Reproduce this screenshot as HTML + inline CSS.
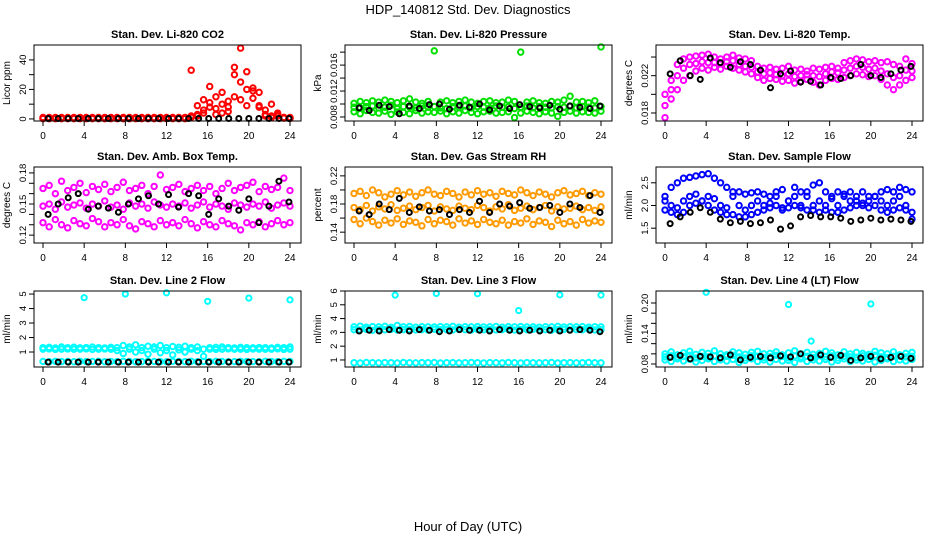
<!DOCTYPE html>
<html><head><meta charset="utf-8"><style>
body{margin:0;background:#fff;}
svg{display:block;font-family:"Liberation Sans",sans-serif;}
</style></head><body>
<svg id="chart" width="936" height="540" viewBox="0 0 936 540">
<rect width="936" height="540" fill="#fff"/>
<text x="468" y="14" text-anchor="middle" font-size="13">HDP_140812  Std. Dev. Diagnostics</text>
<text x="468" y="531" text-anchor="middle" font-size="13">Hour of Day (UTC)</text>
</svg>
<script>
// ---- data ----
const xTickLabels = ["0","4","8","12","16","20","24"];
const panelTitles = ["Stan. Dev. Li-820 CO2","Stan. Dev. Li-820 Pressure","Stan. Dev. Li-820 Temp.","Stan. Dev. Amb. Box Temp.","Stan. Dev. Gas Stream RH","Stan. Dev. Sample Flow","Stan. Dev. Line 2 Flow","Stan. Dev. Line 3 Flow","Stan. Dev. Line 4 (LT) Flow"];
const yTitles = ["Licor ppm","kPa","degrees C","degrees C","percent","ml/min","ml/min","ml/min","ml/min"];

const co2A = [0.5,0.5,0.5,0.5,0.5,0.5,0.5,0.5,0.5,0.5,0.5,0.5,0.5,0.5,0.5,0.5,0.5,0.5,0.5,0.5,0.5,0.5,0.5,0.5,33,9,13,22,15,18,8,35,48,20,21,9,3,10,4,1,0.5];
const co2B = [1,1,1,1,1,1,1,1,1,1,1,1,1,1,1,1,1,1,1,1,1,1,1,1,2,3,6,11,7,4,12,30,25,32,14,18,6,2,2,1,1];
const co2C = [0.2,0.2,0.2,0.2,0.2,0.2,0.2,0.2,0.2,0.2,0.2,0.2,0.2,0.2,0.2,0.2,0.2,0.2,0.2,0.2,0.2,0.2,0.2,0.2,1,2,4,8,3,10,5,15,13,9,19,8,2,1,3,0.5,0.3];
const co2K = [0.3,0.3,0.3,0.3,0.3,0.3,0.3,0.3,0.3,0.3,0.3,0.3,0.3,0.3,0.3,0.3,0.3,0.3,0.3,0.3,0.3,0.3,0.3,0.3,0.3];

const presA = [0.0101,0.0104,0.0102,0.0105,0.0103,0.0106,0.0104,0.0102,0.0105,0.0108,0.0103,0.0101,0.0104,0.0182,0.0103,0.0105,0.0102,0.0104,0.0106,0.0103,0.0101,0.0104,0.0105,0.0102,0.0103,0.0106,0.0104,0.0180,0.0103,0.0105,0.0102,0.0101,0.0104,0.0103,0.0106,0.0112,0.0103,0.0104,0.0102,0.0105,0.0188];
const presB = [0.0088,0.0085,0.0090,0.0087,0.0086,0.0089,0.0084,0.0088,0.0087,0.0085,0.0090,0.0086,0.0088,0.0087,0.0089,0.0085,0.0088,0.0086,0.0090,0.0087,0.0085,0.0088,0.0089,0.0086,0.0087,0.0088,0.0079,0.0086,0.0089,0.0087,0.0085,0.0088,0.0086,0.0081,0.0087,0.0089,0.0086,0.0088,0.0087,0.0086,0.0089];
const presC = [0.0095,0.0094,0.0096,0.0097,0.0094,0.0095,0.0098,0.0093,0.0096,0.0095,0.0094,0.0097,0.0095,0.0096,0.0094,0.0093,0.0096,0.0095,0.0097,0.0094,0.0096,0.0095,0.0094,0.0097,0.0095,0.0096,0.0093,0.0095,0.0097,0.0094,0.0096,0.0095,0.0094,0.0096,0.0095,0.0097,0.0094,0.0096,0.0095,0.0094,0.0096];
const presK = [0.0094,0.0090,0.0098,0.0096,0.0085,0.0097,0.0093,0.0099,0.0100,0.0092,0.0098,0.0095,0.0100,0.0091,0.0097,0.0093,0.0099,0.0096,0.0094,0.0098,0.0092,0.0097,0.0095,0.0093,0.0097];

const tempA = [0.0200,0.0215,0.0232,0.0238,0.0240,0.0241,0.0242,0.0243,0.0240,0.0238,0.0240,0.0242,0.0239,0.0238,0.0236,0.0230,0.0228,0.0229,0.0227,0.0228,0.0230,0.0226,0.0227,0.0225,0.0228,0.0227,0.0229,0.0230,0.0228,0.0234,0.0236,0.0238,0.0237,0.0235,0.0236,0.0234,0.0235,0.0232,0.0230,0.0238,0.0233];
const tempB = [0.0175,0.0195,0.0205,0.0215,0.0220,0.0225,0.0228,0.0226,0.0229,0.0227,0.0230,0.0228,0.0226,0.0224,0.0222,0.0218,0.0215,0.0217,0.0216,0.0214,0.0215,0.0212,0.0214,0.0216,0.0213,0.0210,0.0215,0.0217,0.0216,0.0218,0.0220,0.0222,0.0221,0.0219,0.0220,0.0216,0.0210,0.0205,0.0210,0.0215,0.0218];
const tempC = [0.0188,0.0205,0.0220,0.0228,0.0232,0.0233,0.0235,0.0234,0.0234,0.0233,0.0235,0.0236,0.0232,0.0230,0.0229,0.0224,0.0222,0.0223,0.0221,0.0220,0.0222,0.0219,0.0220,0.0221,0.0220,0.0219,0.0222,0.0224,0.0223,0.0226,0.0228,0.0230,0.0229,0.0227,0.0228,0.0225,0.0222,0.0218,0.0220,0.0226,0.0225];
const tempK = [0.0222,0.0236,0.0220,0.0216,0.0239,0.0234,0.0229,0.0235,0.0232,0.0226,0.0207,0.0222,0.0225,0.0213,0.0214,0.0210,0.0218,0.0217,0.0220,0.0232,0.0220,0.0218,0.0222,0.0226,0.0230];

const boxA = [0.165,0.168,0.160,0.172,0.163,0.166,0.170,0.161,0.167,0.164,0.169,0.162,0.166,0.171,0.163,0.165,0.168,0.160,0.167,0.178,0.164,0.166,0.169,0.162,0.165,0.168,0.163,0.167,0.160,0.165,0.170,0.163,0.166,0.168,0.171,0.162,0.167,0.164,0.166,0.175,0.163];
const boxB = [0.132,0.128,0.135,0.130,0.127,0.134,0.131,0.129,0.136,0.133,0.128,0.132,0.130,0.135,0.129,0.126,0.133,0.131,0.128,0.134,0.130,0.132,0.129,0.135,0.131,0.127,0.133,0.130,0.128,0.134,0.131,0.129,0.125,0.132,0.130,0.133,0.128,0.131,0.134,0.130,0.132];
const boxC = [0.148,0.150,0.145,0.152,0.147,0.149,0.151,0.146,0.150,0.148,0.153,0.147,0.149,0.145,0.151,0.148,0.150,0.146,0.152,0.149,0.147,0.150,0.148,0.151,0.146,0.149,0.152,0.147,0.150,0.148,0.145,0.151,0.149,0.147,0.150,0.148,0.152,0.146,0.149,0.151,0.148];
const boxK = [0.140,0.150,0.156,0.160,0.145,0.148,0.146,0.142,0.150,0.155,0.158,0.150,0.159,0.147,0.160,0.158,0.140,0.155,0.148,0.144,0.155,0.132,0.148,0.172,0.152];

const rhA = [0.195,0.198,0.192,0.200,0.196,0.190,0.194,0.199,0.193,0.197,0.191,0.196,0.200,0.194,0.192,0.198,0.195,0.190,0.197,0.193,0.199,0.194,0.196,0.191,0.198,0.195,0.193,0.200,0.196,0.192,0.197,0.194,0.190,0.196,0.199,0.193,0.195,0.198,0.192,0.196,0.194];
const rhB = [0.158,0.152,0.160,0.155,0.150,0.157,0.153,0.159,0.151,0.156,0.154,0.149,0.158,0.152,0.157,0.155,0.150,0.159,0.153,0.156,0.151,0.158,0.154,0.152,0.157,0.150,0.155,0.153,0.159,0.151,0.156,0.154,0.148,0.157,0.152,0.155,0.150,0.158,0.153,0.156,0.154];
const rhC = [0.175,0.172,0.178,0.170,0.176,0.173,0.179,0.171,0.174,0.177,0.172,0.175,0.178,0.170,0.176,0.173,0.171,0.177,0.174,0.172,0.178,0.175,0.170,0.176,0.173,0.179,0.171,0.174,0.177,0.172,0.175,0.178,0.170,0.176,0.173,0.174,0.177,0.172,0.175,0.171,0.176];
const rhK = [0.170,0.165,0.180,0.172,0.188,0.168,0.176,0.170,0.172,0.165,0.172,0.168,0.184,0.168,0.180,0.177,0.182,0.174,0.175,0.178,0.168,0.180,0.175,0.192,0.168];

const flowA = [2.2,2.4,2.5,2.6,2.62,2.65,2.68,2.7,2.6,2.5,2.4,2.3,2.3,2.25,2.28,2.3,2.25,2.2,2.3,2.35,2.1,2.4,2.3,2.2,2.45,2.5,2.3,2.2,2.3,2.25,2.3,2.1,2.0,2.1,2.2,2.3,2.35,2.3,2.4,2.35,2.3];
const flowB = [1.9,1.85,1.8,1.85,2.0,2.05,2.1,2.0,1.9,1.85,1.8,1.8,1.75,1.75,1.8,1.85,1.9,1.95,2.0,1.9,1.95,2.0,1.95,1.9,1.9,1.85,1.9,1.85,1.85,1.9,1.95,2.0,2.05,1.95,2.0,1.9,1.85,1.9,1.95,1.9,1.85];
const flowC = [2.1,2.0,1.95,2.1,2.2,2.25,2.1,2.2,2.15,2.0,1.95,2.2,2.0,1.9,2.0,2.1,2.0,2.05,2.2,1.95,2.1,2.2,2.0,2.3,2.0,2.1,2.0,2.15,2.0,2.2,2.1,2.2,2.3,2.2,2.2,2.1,2.0,2.1,2.2,2.0,1.7];
const flowK = [1.6,1.75,1.85,1.95,1.85,1.7,1.62,1.65,1.6,1.62,1.68,1.48,1.55,1.75,1.78,1.75,1.75,1.72,1.65,1.68,1.72,1.68,1.7,1.68,1.65];

const l2A = [1.3,1.32,1.28,1.35,1.3,1.33,1.29,1.31,1.34,1.3,1.28,1.32,1.3,1.45,1.35,1.5,1.3,1.4,1.35,1.45,1.3,1.38,1.32,1.4,1.3,1.35,1.2,1.3,1.32,1.35,1.3,1.28,1.32,1.3,1.29,1.31,1.3,1.28,1.32,1.3,1.35];
const l2B = [1.2,1.22,1.18,1.2,1.21,1.19,1.2,1.22,1.18,1.2,1.21,1.19,1.1,0.9,1.2,1.0,1.1,0.85,1.2,0.95,1.1,0.8,1.15,1.0,1.2,1.1,0.7,1.2,1.18,1.2,1.22,1.19,1.2,1.18,1.21,1.2,1.19,1.2,1.22,1.18,1.2];
const l2C = [0.35,0.33,0.36,0.34,0.35,0.33,0.36,0.34,0.35,0.36,0.33,0.35,0.34,0.36,0.35,0.33,0.34,0.36,0.35,0.34,0.33,0.36,0.35,0.34,0.36,0.33,0.35,0.34,0.36,0.35,0.33,0.34,0.36,0.35,0.34,0.33,0.36,0.35,0.34,0.36,0.35];
const l2K = [0.3,0.3,0.3,0.3,0.3,0.3,0.3,0.3,0.3,0.3,0.3,0.3,0.3,0.3,0.3,0.3,0.3,0.3,0.3,0.3,0.3,0.3,0.3,0.3,0.3];
const l2OutHours = [4,8,12,16,20,24];
const l2OutVals = [4.75,5.0,5.08,4.5,4.72,4.6];

const l3A = [3.4,3.45,3.38,3.42,3.4,3.44,3.37,3.5,3.4,3.43,3.38,3.41,3.4,3.39,3.42,3.4,3.44,3.38,3.41,3.4,3.42,3.39,3.4,3.43,3.38,3.41,3.4,3.42,3.39,3.4,3.38,3.41,3.4,3.44,3.39,3.41,3.4,3.42,3.38,3.41,3.4];
const l3B = [3.2,3.18,3.22,3.15,3.2,3.19,3.22,3.17,3.2,3.21,3.18,3.2,3.16,3.22,3.19,3.2,3.18,3.21,3.2,3.17,3.22,3.19,3.2,3.18,3.2,3.21,3.17,3.2,3.19,3.22,3.18,3.2,3.16,3.2,3.21,3.18,3.2,3.19,3.22,3.18,3.2];
const l3C = [0.8,0.78,0.82,0.8,0.79,0.81,0.8,0.78,0.82,0.8,0.79,0.81,0.8,0.82,0.78,0.8,0.81,0.79,0.8,0.82,0.8,0.78,0.81,0.8,0.79,0.82,0.8,0.78,0.81,0.8,0.79,0.8,0.82,0.78,0.8,0.81,0.79,0.8,0.82,0.8,0.79];
const l3K = [3.1,3.15,3.1,3.2,3.15,3.1,3.2,3.15,3.05,3.1,3.2,3.15,3.15,3.1,3.2,3.15,3.1,3.15,3.1,3.15,3.1,3.15,3.2,3.15,3.05];
const l3OutHours = [4,8,12,16,20,24];
const l3OutVals = [5.7,5.82,5.8,4.58,5.72,5.7];

const l4A = [0.100,0.104,0.098,0.102,0.105,0.099,0.103,0.101,0.106,0.100,0.098,0.104,0.102,0.099,0.103,0.105,0.100,0.101,0.104,0.098,0.102,0.106,0.100,0.103,0.099,0.101,0.105,0.102,0.098,0.104,0.100,0.103,0.101,0.099,0.105,0.102,0.100,0.104,0.098,0.101,0.103];
const l4B = [0.088,0.085,0.090,0.086,0.089,0.084,0.087,0.090,0.085,0.088,0.086,0.089,0.083,0.087,0.090,0.085,0.088,0.084,0.089,0.086,0.087,0.083,0.090,0.085,0.088,0.086,0.089,0.084,0.087,0.090,0.085,0.088,0.086,0.089,0.084,0.087,0.090,0.085,0.088,0.086,0.089];
const l4C = [0.094,0.096,0.093,0.095,0.097,0.092,0.095,0.094,0.096,0.093,0.095,0.097,0.094,0.092,0.096,0.095,0.093,0.094,0.097,0.095,0.092,0.096,0.094,0.095,0.093,0.097,0.094,0.096,0.092,0.095,0.094,0.093,0.096,0.095,0.097,0.094,0.093,0.095,0.096,0.094,0.095];
const l4K = [0.093,0.097,0.090,0.095,0.094,0.092,0.098,0.088,0.093,0.095,0.092,0.096,0.094,0.100,0.092,0.098,0.093,0.097,0.087,0.092,0.095,0.090,0.093,0.095,0.091];
const l4OutHours = [4,12,20,14.2];
const l4OutVals = [0.221,0.197,0.198,0.125];

const yTickVals = [
  [0,10,20,30,40],[0.008,0.010,0.012,0.014,0.016,0.018],[0.018,0.020,0.022,0.024],
  [0.12,0.13,0.14,0.15,0.16,0.17,0.18],[0.14,0.16,0.18,0.20,0.22],[1.5,2.0,2.5],
  [1,2,3,4,5],[1,2,3,4,5,6],[0.08,0.10,0.12,0.14,0.16,0.18,0.20]];
const yTickLabels = [
  ["0","","20","","40"],["0.008","","0.012","","0.016",""],["0.018","","0.022",""],
  ["0.12","","","0.15","","","0.18"],["0.14","","0.18","","0.22"],["1.5","2.0","2.5"],
  ["1","2","3","4","5"],["1","2","3","4","5","6"],["0.08","","","0.14","","","0.20"]];
const yDomains = [[-1.4,50.1],[0.00738,0.0191],[0.01714,0.02529],[0.1124,0.1857],[0.1246,0.2326],[1.174,2.848],[-0.034,5.21],[0.49,6.0],[0.0741,0.2236]];

const colorSeries = [[co2A,co2B,co2C],[presA,presB,presC],[tempA,tempB,tempC],[boxA,boxB,boxC],[rhA,rhB,rhC],[flowA,flowB,flowC],[l2A,l2B,l2C],[l3A,l3B,l3C],[l4A,l4B,l4C]];
const blackSeries = [co2K,presK,tempK,boxK,rhK,flowK,l2K,l3K,l4K];
const outlierHours = [[],[],[],[],[],[],l2OutHours,l3OutHours,l4OutHours];
const outlierVals = [[],[],[],[],[],[],l2OutVals,l3OutVals,l4OutVals];

// ---- styling / geometry ----
const colors = ["#ff0000","#00e000","#ff00ff","#ff00ff","#ff9a00","#0000ff","#00ffff","#00ffff","#00ffff"];
const colLeft = [34,345,656], rowTop = [45,167,291], boxW = 267, boxH = 76;
const NS = "http://www.w3.org/2000/svg";
const svg = document.getElementById('chart');
function mk(tag, attrs, parent){ const e=document.createElementNS(NS,tag); for(const k in attrs) e.setAttribute(k,attrs[k]); (parent||svg).appendChild(e); return e; }

for (let p=0;p<9;p++){
  const L = colLeft[p%3], T = rowTop[Math.floor(p/3)], B = T+boxH;
  const [d0,d1] = yDomains[p];
  const xs = t => L + 9 + t*247/24;
  const ys = v => B - (v-d0)/(d1-d0)*boxH;
  const g = mk('g',{});
  
  
  const title = mk('text',{x:L+boxW/2,y:T-7,'text-anchor':'middle','font-size':'11','font-weight':'bold'},g);
  title.textContent = panelTitles[p];
  
  
  const yt = mk('text',{transform:`translate(${L-24},${T+boxH/2}) rotate(-90)`,'text-anchor':'middle','font-size':'10'},g);
  yt.textContent = yTitles[p];
  
  
  const pts = mk('g',{fill:'none','stroke-width':'2'},g);
  
  
  colorSeries[p].forEach(ser=>{
    ser.forEach((v,i)=>{
      const t = i*24/(ser.length-1);
      const c = mk('circle',{cx:xs(t),cy:ys(v),r:2.7,stroke:colors[p]},pts);
      
      
    });
  });
  outlierVals[p].forEach((v,i)=>{
    const c = mk('circle',{cx:xs(outlierHours[p][i]),cy:ys(v),r:2.6,stroke:colors[p]},pts);
    
    
  });
  blackSeries[p].forEach((v,i)=>{
    const t = 0.5 + i*23.4/(blackSeries[p].length-1);
    const c = mk('circle',{cx:xs(t),cy:ys(v),r:2.5,stroke:'#000'},pts);
    
    
  });
  const box = mk('rect',{x:L,y:T,width:boxW,height:boxH,fill:'none',stroke:'#000','stroke-width':'1'},g);
  
  
  xTickLabels.forEach((lab,i)=>{
    const x = xs(+lab);
    mk('line',{x1:x,x2:x,y1:B,y2:B+5,stroke:'#000'},g);
    const tx = mk('text',{x:x,y:B+18,'text-anchor':'middle','font-size':'10'},g);
    tx.textContent = lab;
    
    
  });
  yTickVals[p].forEach((v,i)=>{
    const y = ys(v);
    mk('line',{x1:L-5,x2:L,y1:y,y2:y,stroke:'#000'},g);
    if (yTickLabels[p][i]){
      const tx = mk('text',{transform:`translate(${L-8},${y}) rotate(-90)`,'text-anchor':'middle','font-size':'9.5'},g);
      tx.textContent = yTickLabels[p][i];
      
      
    }
  });
}
</script>
</body></html>
